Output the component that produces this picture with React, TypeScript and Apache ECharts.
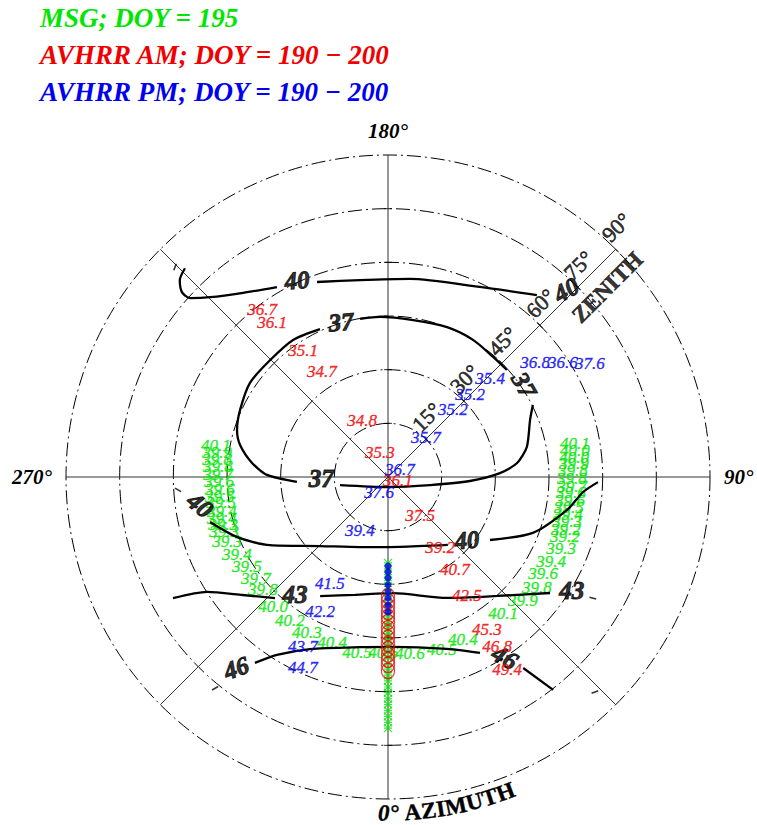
import React, { useEffect, useRef } from "react";
import * as echarts from "echarts";

const SERIF = '"Liberation Serif", "Times New Roman", serif';
const GREEN = "#00e600";
const RED = "#f00000";
const BLUE = "#0000f0";

// Contour segments, each point = [zenith, azimuth] in degrees
const contour37: number[][][] = [
  [[45.5, 204.7], [46.6, 214.7], [46.4, 225.2], [46.7, 235.7], [45.4, 245.6], [44.2, 252.7], [42.3, 257.8], [38.2, 264.1], [33.8, 269.0], [25.5, 273.1]],
  [[13.6, 279.5], [2.8, 0], [12.0, 79.2], [22.9, 87.2], [31.3, 92.0], [36.3, 96.2], [39.7, 102.2], [42.8, 111.9], [45.2, 116.4]],
  [[44.7, 132.0], [44.6, 138.8], [45.1, 148.2], [45.0, 158.5], [44.4, 170.9], [44.8, 182.9], [44.9, 190.0]],
];
const contour40: number[][][] = [
  [[81.4, 224.2], [80.1, 226.6], [77.4, 228.1], [74.6, 227.9], [70.7, 224.7], [65.5, 218.2], [61.5, 210.3]],
  [[58.0, 200.0], [55.6, 188.1], [55.7, 173.7], [59.0, 154.2], [65.7, 140.7]],
  [[51.3, 284.2], [45.4, 291.7], [38.1, 300.0], [27.1, 315.4], [21.1, 338.2], [19.8, 9.7], [25.3, 41.4]],
  [[33.5, 58.3], [43.4, 68.9], [50.9, 79.6], [54.7, 85.6], [58.7, 88.6]],
];
const contour43: number[][][] = [
  [[69.0, 299.4], [59.9, 302.4], [52.3, 309.1], [46.3, 317.0]],
  [[38.3, 330.3], [34.2, 344.4], [32.5, 2.5], [37.6, 26.0], [45.1, 42.5], [55.7, 54.4]],
];
const contour46: number[][][] = [
  [[63.9, 324.4], [58.6, 328.0], [52.8, 335.6], [48.2, 350.6], [47.5, 1.7], [50.8, 18.9], [55.5, 27.6]],
  [[65.4, 35.3], [75.3, 37.8]],
];

// Contour level labels: [level, zenith, azimuth, rotation]
const contourLabels: [string, number, number, number][] = [
  ["40", 60.6, 204.8, 5],
  ["40", 72.2, 136.4, 30],
  ["37", 45.3, 196.9, 5],
  ["37", 18.7, 271.7, 0],
  ["37", 45.9, 124.1, -60],
  ["40", 53.1, 278.5, -40],
  ["40", 28.2, 51.4, 5],
  ["43", 41.8, 321.5, 0],
  ["43", 60.3, 58.4, 0],
  ["46", 68.2, 321.5, 20],
  ["46", 60.0, 33.0, -30],
];
// Small contour tick dashes: [zenith, azimuth, rotation]
const contourTicks: [number, number, number][] = [
  [83.6, 225.4, 70],
  [58.8, 273.5, -30],
  [76.3, 320.7, 30],
  [66.5, 59.4, -15],
  [83.4, 43.9, 20],
];

// AVHRR AM values: [value, zenith, azimuth]
const avhrrAM: [number, number, number][] = [
  [36.7, 58.5, 217.0], [36.1, 54.1, 216.8], [35.1, 42.7, 213.8], [34.7, 34.7, 212.2],
  [34.8, 17.5, 204.5], [35.3, 7.1, 198.4], [36.1, 3.0, 68.2], [37.5, 13.9, 40.1],
  [39.2, 24.4, 36.6], [40.7, 32.0, 35.8], [42.5, 39.9, 33.6], [45.3, 50.9, 32.9],
  [46.8, 56.4, 32.7], [49.4, 63.4, 31.7],
];
// AVHRR PM values: [value, zenith, azimuth]
const avhrrPM: [number, number, number][] = [
  [36.8, 52.2, 128.0], [36.6, 58.5, 123.3], [37.6, 64.8, 119.4], [35.4, 39.7, 134.1],
  [35.2, 32.6, 135.3], [35.2, 26.1, 135.9], [35.7, 15.4, 136.5], [36.7, 4.0, 123.7],
  [37.6, 5.1, 330.6], [39.4, 16.8, 332.2], [41.5, 33.8, 331.3], [42.2, 42.2, 333.3],
  [43.7, 53.1, 333.4], [44.7, 58.2, 335.9],
];
// MSG values: [value, zenith, azimuth]
const msg: [number, number, number][] = [
  [40.1, 48.9, 259.5], [39.9, 48.3, 261.7], [39.8, 48.0, 264.0], [39.8, 47.6, 266.6],
  [39.7, 47.5, 269.0], [39.6, 47.2, 271.4], [39.6, 47.1, 274.1], [39.5, 47.3, 276.5],
  [39.5, 47.2, 278.8], [39.4, 47.4, 281.6], [39.4, 47.8, 283.9], [39.3, 48.0, 286.2],
  [39.3, 48.3, 288.5], [39.3, 48.4, 291.7], [39.4, 47.5, 297.3], [39.5, 46.8, 302.5],
  [39.7, 46.5, 307.4], [39.8, 47.1, 312.1], [40.0, 48.5, 318.5], [40.2, 48.5, 325.6],
  [40.3, 48.9, 332.4], [40.4, 48.7, 341.3], [40.5, 49.7, 350.0], [40.6, 49.2, 358.4],
  [40.6, 49.6, 7.1], [40.5, 50.6, 17.3], [40.4, 50.1, 24.7], [40.1, 49.8, 40.2],
  [39.9, 51.2, 47.4], [39.8, 51.9, 53.3], [39.6, 51.1, 58.0], [39.4, 51.4, 62.5],
  [39.3, 52.3, 67.7], [39.2, 52.2, 71.3], [39.2, 51.8, 73.7], [39.3, 51.6, 75.9],
  [39.4, 51.4, 78.1], [39.5, 51.3, 80.3], [39.6, 51.3, 82.8], [39.6, 51.3, 85.0],
  [39.7, 51.5, 87.2], [39.8, 51.4, 89.4], [39.8, 51.7, 91.9], [39.9, 52.1, 94.0],
  [40.0, 52.3, 96.1], [40.0, 52.8, 98.2], [40.1, 53.1, 100.3],
];

// Observation markers along the 0° azimuth spoke (zenith values)
const msgMarkerZen = [24.0, 25.7, 27.3, 29.0, 30.6, 32.3, 33.9, 35.6, 37.2, 38.9, 40.5, 42.2, 43.8, 45.5, 47.1, 48.8, 50.4, 52.1, 53.7, 55.4, 57.0, 58.7, 60.3, 62.0, 63.6, 65.3, 66.9, 68.6, 70.2];
const amMarkerZen = [33.3, 34.7, 36.1, 37.7, 39.1, 40.5, 42.2, 43.6, 45.0, 46.7, 48.1, 49.7, 51.1, 52.5, 54.2];
const pmMarkerZen = [24.9, 26.5, 28.2, 30.2, 32.1, 33.8, 35.8, 37.7];

const zenithTicks = [15, 30, 45, 60, 75, 90];
const azimuthLabels: Record<number, string> = { 90: "90°", 180: "180°", 270: "270°" };
const legendLines: [string, string][] = [
  ["MSG; DOY = 195", GREEN],
  ["AVHRR AM; DOY = 190 − 200", RED],
  ["AVHRR PM; DOY = 190 − 200", BLUE],
];
const AZIMUTH_CAPTION = "0° AZIMUTH";

const CX = 388;
const CY = 477;
const R = 322;

function valueLabels(name: string, rows: [number, number, number][], color: string, z: number) {
  return {
    type: "scatter",
    name,
    coordinateSystem: "polar",
    symbolSize: 0,
    silent: true,
    z,
    data: rows.map(([v, zen, az]) => ({ name: v.toFixed(1), value: [zen, az] })),
    label: {
      show: true,
      position: "inside",
      formatter: "{b}",
      color,
      fontFamily: SERIF,
      fontStyle: "italic",
      fontSize: 17,
      textBorderColor: color,
      textBorderWidth: 0.4,
    },
  };
}

function contourSeries(segs: number[][][]) {
  return segs.map((seg) => ({
    type: "line",
    coordinateSystem: "polar",
    data: seg,
    showSymbol: false,
    smooth: 0.25,
    silent: true,
    z: 4,
    lineStyle: { color: "#000", width: 2.3 },
  }));
}

// Lay the azimuth caption out along an arc just outside the outer ring
function arcCaption(text: string, radius: number, font: string) {
  const ctx = document.createElement("canvas").getContext("2d")!;
  ctx.font = font;
  const parts = ["0°", ...text.slice(2).split("")];
  let cursor = -10;
  const out: any[] = [];
  parts.forEach((ch) => {
    const w = ctx.measureText(ch).width;
    const s = cursor + w / 2;
    cursor += w;
    if (ch === " ") return;
    const a = s / radius;
    out.push({
      type: "text",
      x: CX + radius * Math.sin(a),
      y: CY + radius * Math.cos(a),
      rotation: a,
      style: {
        text: ch,
        fill: "#000",
        stroke: "#000",
        lineWidth: 0.4,
        font: ch === "0°" ? "italic " + font : font,
        align: "center",
        verticalAlign: "middle",
      },
    });
  });
  return out;
}

export default function App() {
  const ref = useRef<HTMLDivElement>(null);

  useEffect(() => {
    const chart = echarts.init(ref.current!, null, { renderer: "svg" });

    const graphic: any[] = legendLines.map(([text, color], i) => ({
      type: "text",
      left: 40,
      top: 4 + i * 37,
      style: {
        text,
        fill: color,
        fontFamily: SERIF,
        fontStyle: "italic",
        fontWeight: "bold",
        fontSize: 27,
      },
    }));
    graphic.push(...arcCaption(AZIMUTH_CAPTION, 336, 'bold 23px "Liberation Serif"'));

    const option: any = {
      animation: false,
      backgroundColor: "#fff",
      polar: { center: [CX, CY], radius: R },
      angleAxis: {
        type: "value",
        min: 0,
        max: 360,
        interval: 45,
        startAngle: 270,
        clockwise: false,
        axisLine: { show: false },
        axisTick: { show: false },
        axisLabel: {
          show: true,
          margin: 14,
          formatter: (v: number) => azimuthLabels[v] || "",
          color: "#000",
          fontFamily: SERIF,
          fontStyle: "italic",
          fontWeight: "bold",
          fontSize: 21,
        },
        splitLine: { show: true, lineStyle: { color: "#333", width: 1 } },
      },
      radiusAxis: {
        type: "value",
        min: 0,
        max: 90,
        interval: 15,
        axisLine: { show: false },
        axisTick: { show: false },
        axisLabel: { show: false },
        splitLine: { show: true, lineStyle: { color: "#000", width: 1, type: [14, 4, 2, 4] } },
      },
      graphic,
      series: [
        // ring ticks on the vertical spokes and the zenith spoke
        {
          type: "scatter",
          coordinateSystem: "polar",
          silent: true,
          symbol: "rect",
          symbolSize: [8, 1],
          itemStyle: { color: "#000" },
          z: 2,
          data: [
            ...zenithTicks.slice(0, 5).map((z) => ({ value: [z, 180] })),
            ...zenithTicks.slice(0, 5).map((z) => ({ value: [z, 0] })),
            ...zenithTicks.map((z) => ({ value: [z, 135], symbolRotate: 135 })),
          ],
        },
        valueLabels("MSG", msg, GREEN, 3),
        ...contourSeries(contour37),
        ...contourSeries(contour40),
        ...contourSeries(contour43),
        ...contourSeries(contour46),
        {
          type: "scatter",
          coordinateSystem: "polar",
          silent: true,
          symbol: "rect",
          symbolSize: [7, 1.6],
          itemStyle: { color: "#000" },
          z: 4,
          data: contourTicks.map(([zen, az, rot]) => ({ value: [zen, az], symbolRotate: rot })),
        },
        {
          type: "scatter",
          coordinateSystem: "polar",
          symbolSize: 0,
          silent: true,
          z: 6,
          data: contourLabels.map(([t, zen, az, rot]) => ({ name: t, value: [zen, az], label: { rotate: rot } })),
          label: {
            show: true,
            position: "inside",
            formatter: "{b}",
            color: "#000",
            fontFamily: SERIF,
            fontStyle: "italic",
            fontWeight: "bold",
            fontSize: 25,
            textBorderColor: "#000",
            textBorderWidth: 1,
          },
        },
        // zenith scale along the 135° spoke
        {
          type: "scatter",
          coordinateSystem: "polar",
          symbolSize: 0,
          silent: true,
          z: 6,
          data: [
            ...zenithTicks.map((z) => ({ name: `${z}°`, value: [z, 135] })),
            {
              name: "ZENITH",
              value: [80.8, 135],
              label: { offset: [0, 21], fontWeight: "bold", fontSize: 23, textBorderWidth: 0.6 },
            },
          ],
          label: {
            show: true,
            position: "inside",
            formatter: "{b}",
            offset: [16, -15],
            rotate: 45,
            color: "#000",
            fontFamily: SERIF,
            fontSize: 22,
            textBorderColor: "#000",
            textBorderWidth: 0.6,
          },
        },
        // MSG observations
        {
          type: "scatter",
          coordinateSystem: "polar",
          silent: true,
          z: 7,
          symbol: "path://M0,0L10,10M10,0L0,10M0,5L10,5",
          symbolSize: 8,
          itemStyle: { color: "rgba(0,0,0,0)", borderColor: GREEN, borderWidth: 1.2 },
          data: msgMarkerZen.map((z) => [z, 0]),
        },
        // AVHRR AM observations
        {
          type: "scatter",
          coordinateSystem: "polar",
          silent: true,
          z: 8,
          symbol: "circle",
          symbolSize: [13, 15],
          itemStyle: { color: "rgba(0,0,0,0)", borderColor: RED, borderWidth: 1.2 },
          data: amMarkerZen.map((z) => [z, 0]),
        },
        // AVHRR PM observations
        {
          type: "scatter",
          coordinateSystem: "polar",
          silent: true,
          z: 9,
          symbol: "circle",
          symbolSize: 7,
          itemStyle: { color: BLUE },
          data: pmMarkerZen.map((z) => [z, 0]),
        },
        valueLabels("AVHRR AM", avhrrAM, RED, 10),
        valueLabels("AVHRR PM", avhrrPM, BLUE, 11),
      ],
    };

    chart.setOption(option);
    return () => chart.dispose();
  }, []);

  return (
    <div
      ref={ref}
      style={{ position: "absolute", left: 0, top: 0, width: 757, height: 825, background: "#fff" }}
    />
  );
}
